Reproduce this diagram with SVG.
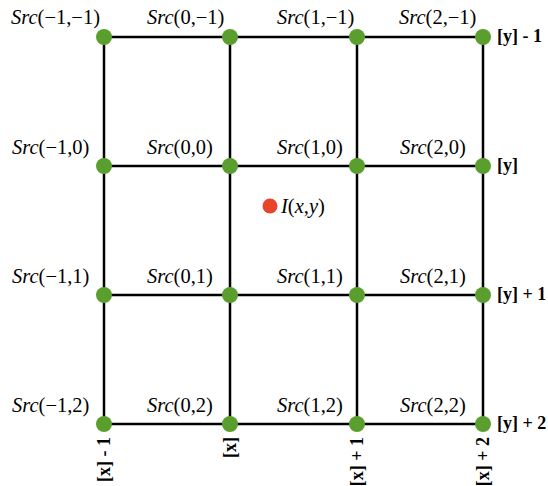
<svg xmlns="http://www.w3.org/2000/svg" width="548" height="486" viewBox="0 0 548 486">
  <style>
    .grid { stroke: #000; stroke-width: 2.5; fill: none; }
    .pt { fill: #5a9f2e; }
    .src { font-family: "Liberation Serif", "Times New Roman", serif; font-size: 20.5px; fill: #000; }
    .src .it { font-style: italic; }
    .idx { font-family: "Liberation Serif", "Times New Roman", serif; font-size: 18px; font-weight: bold; fill: #000; }
  </style>
  <rect width="548" height="486" fill="#fff"/>

  <!-- grid connectors -->
  <g id="connectors" class="grid">
    <line x1="104" y1="37" x2="483" y2="37"/>
    <line x1="104" y1="166" x2="483" y2="166"/>
    <line x1="104" y1="295" x2="483" y2="295"/>
    <line x1="104" y1="424" x2="483" y2="424"/>
    <line x1="104" y1="37" x2="104" y2="424"/>
    <line x1="230" y1="37" x2="230" y2="424"/>
    <line x1="357" y1="37" x2="357" y2="424"/>
    <line x1="483" y1="37" x2="483" y2="424"/>
  </g>

  <!-- row -1 -->
  <g id="src-m1-m1"><circle class="pt" cx="104" cy="37" r="8"/><text class="src" x="11" y="24"><tspan class="it">Src</tspan>(−1,−1)</text></g>
  <g id="src-0-m1"><circle class="pt" cx="230" cy="37" r="8"/><text class="src" x="147" y="24"><tspan class="it">Src</tspan>(0,−1)</text></g>
  <g id="src-1-m1"><circle class="pt" cx="357" cy="37" r="8"/><text class="src" x="277" y="24"><tspan class="it">Src</tspan>(1,−1)</text></g>
  <g id="src-2-m1"><circle class="pt" cx="483" cy="37" r="8"/><text class="src" x="399" y="24"><tspan class="it">Src</tspan>(2,−1)</text></g>

  <!-- row 0 -->
  <g id="src-m1-0"><circle class="pt" cx="104" cy="166" r="8"/><text class="src" x="12" y="154"><tspan class="it">Src</tspan>(−1,0)</text></g>
  <g id="src-0-0"><circle class="pt" cx="230" cy="166" r="8"/><text class="src" x="147" y="154"><tspan class="it">Src</tspan>(0,0)</text></g>
  <g id="src-1-0"><circle class="pt" cx="357" cy="166" r="8"/><text class="src" x="277" y="154"><tspan class="it">Src</tspan>(1,0)</text></g>
  <g id="src-2-0"><circle class="pt" cx="483" cy="166" r="8"/><text class="src" x="400" y="154"><tspan class="it">Src</tspan>(2,0)</text></g>

  <!-- row 1 -->
  <g id="src-m1-1"><circle class="pt" cx="104" cy="295" r="8"/><text class="src" x="12" y="283"><tspan class="it">Src</tspan>(−1,1)</text></g>
  <g id="src-0-1"><circle class="pt" cx="230" cy="295" r="8"/><text class="src" x="147" y="283"><tspan class="it">Src</tspan>(0,1)</text></g>
  <g id="src-1-1"><circle class="pt" cx="357" cy="295" r="8"/><text class="src" x="277" y="283"><tspan class="it">Src</tspan>(1,1)</text></g>
  <g id="src-2-1"><circle class="pt" cx="483" cy="295" r="8"/><text class="src" x="400" y="283"><tspan class="it">Src</tspan>(2,1)</text></g>

  <!-- row 2 -->
  <g id="src-m1-2"><circle class="pt" cx="104" cy="424" r="8"/><text class="src" x="12" y="412"><tspan class="it">Src</tspan>(−1,2)</text></g>
  <g id="src-0-2"><circle class="pt" cx="230" cy="424" r="8"/><text class="src" x="147" y="412"><tspan class="it">Src</tspan>(0,2)</text></g>
  <g id="src-1-2"><circle class="pt" cx="357" cy="424" r="8"/><text class="src" x="277" y="412"><tspan class="it">Src</tspan>(1,2)</text></g>
  <g id="src-2-2"><circle class="pt" cx="483" cy="424" r="8"/><text class="src" x="400" y="412"><tspan class="it">Src</tspan>(2,2)</text></g>

  <!-- interpolated sample -->
  <g id="sample">
    <circle cx="270" cy="206" r="7.5" fill="#e8432b"/>
    <text class="src" x="281" y="213"><tspan class="it">I</tspan>(<tspan class="it">x</tspan>,<tspan class="it">y</tspan>)</text>
  </g>

  <!-- row indices -->
  <g id="row-labels" class="idx">
    <text x="497" y="42">[y] - 1</text>
    <text x="497" y="171">[y]</text>
    <text x="497" y="300">[y] + 1</text>
    <text x="497" y="429">[y] + 2</text>
  </g>

  <!-- column indices -->
  <g id="col-labels" class="idx" text-anchor="end">
    <text transform="translate(110,437) rotate(-90)">[x] - 1</text>
    <text transform="translate(236,437) rotate(-90)">[x]</text>
    <text transform="translate(363,437) rotate(-90)">[x] + 1</text>
    <text transform="translate(489,437) rotate(-90)">[x] + 2</text>
  </g>
</svg>
